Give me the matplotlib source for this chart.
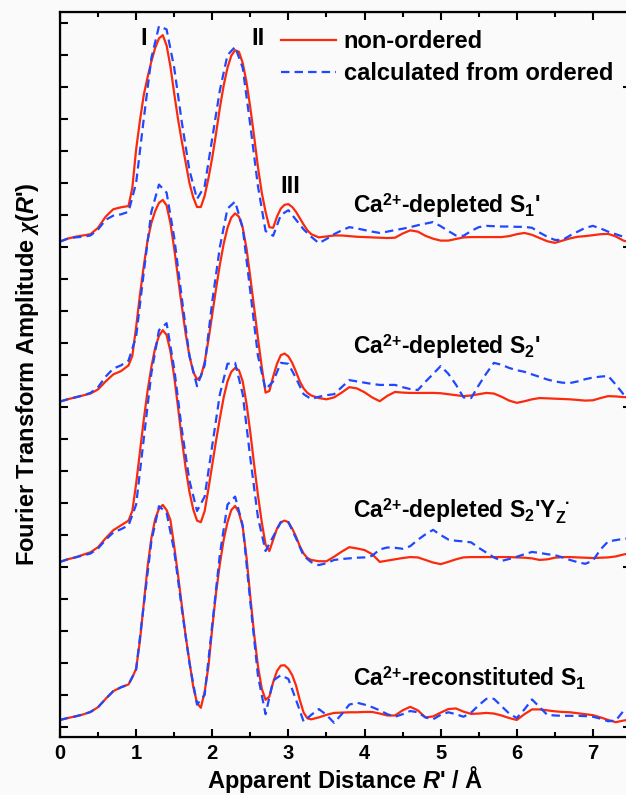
import numpy as np
import matplotlib
matplotlib.use("Agg")
import matplotlib.pyplot as plt
from matplotlib.ticker import MultipleLocator

plt.rcParams['font.family'] = ['Liberation Sans', 'DejaVu Sans']
plt.rcParams['font.weight'] = 'bold'
plt.rcParams['mathtext.fontset'] = 'custom'
plt.rcParams['mathtext.rm'] = 'Liberation Sans:bold'
plt.rcParams['mathtext.bf'] = 'Liberation Sans:bold'
plt.rcParams['mathtext.it'] = 'Liberation Serif:italic'
plt.rcParams['mathtext.sf'] = 'Liberation Sans:bold:italic'

# apparent distance (Å): fitted curves sampled finer across the first shells
r_fit = np.round(np.concatenate([np.arange(0, 0.85, 0.1),
                                 np.arange(0.9, 3.301, 0.05),
                                 np.arange(3.4, 7.501, 0.1)]), 2)
# back-calculated curves, 0.1 Å steps
r_calc = np.round(np.arange(0, 7.501, 0.1), 2)

# FT amplitudes, each spectrum on its own baseline
s1_red = [0.17, 0.26, 0.32, 0.36, 0.40, 0.60, 0.95, 1.18, 1.24,
          1.28, 1.85, 3.05, 3.95, 4.75, 5.30, 5.80, 6.22, 6.52, 6.62,
          6.30, 5.65, 4.80, 4.00, 3.30, 2.65, 2.00, 1.55, 1.25, 1.25,
          1.60, 2.15, 2.80, 3.55, 4.35, 5.05, 5.60, 5.98, 6.15, 6.10,
          5.75, 5.15, 4.35, 3.45, 2.50, 1.70, 1.10, 0.62, 0.60, 0.95,
          1.20, 1.32, 1.34, 1.25, 1.10, 0.90, 0.70, 0.52, 0.40,
          0.30, 0.33, 0.36, 0.36, 0.34, 0.32,
          0.31, 0.30, 0.29, 0.28, 0.29, 0.42, 0.52, 0.48, 0.35, 0.26,
          0.20, 0.20, 0.25, 0.30, 0.31, 0.31, 0.31, 0.31, 0.31, 0.34,
          0.40, 0.44, 0.38, 0.28, 0.18, 0.13, 0.20, 0.27, 0.32, 0.34,
          0.37, 0.40, 0.41, 0.33, 0.20, 0.14]
s1_blue = [0.17, 0.26, 0.30, 0.32, 0.36, 0.55, 0.85, 0.98, 1.02, 1.10,
           2.00, 4.00, 5.90, 6.90, 6.80, 5.60, 3.90, 2.40, 1.50, 1.90,
           3.40, 4.90, 6.00, 6.25, 5.60, 3.80, 1.90, 0.50, 0.35, 1.00,
           1.15, 0.85, 0.55, 0.32, 0.12, 0.25, 0.40, 0.52, 0.62, 0.58,
           0.53, 0.48, 0.44, 0.48, 0.53, 0.57, 0.62, 0.68, 0.73, 0.78,
           0.65, 0.50, 0.36, 0.35, 0.50, 0.62, 0.66, 0.65, 0.64, 0.64,
           0.63, 0.63, 0.60, 0.45, 0.32, 0.22, 0.22, 0.36, 0.48, 0.60,
           0.66, 0.58, 0.48, 0.40, 0.32, 0.28]

s2_red = [0.17, 0.24, 0.30, 0.36, 0.42, 0.55, 0.80, 1.02, 1.12,
          1.30, 1.60, 2.50, 3.50, 4.40, 5.20, 5.75, 6.12, 6.38, 6.47,
          6.30, 5.75, 4.95, 4.05, 3.15, 2.30, 1.60, 1.10, 0.86, 0.95,
          1.40, 2.10, 2.90, 3.70, 4.45, 5.10, 5.60, 5.92, 6.05, 5.95,
          5.60, 4.95, 4.05, 3.10, 2.15, 1.25, 0.45, 0.50, 0.95, 1.35,
          1.62, 1.67, 1.58, 1.38, 1.10, 0.80, 0.58, 0.44, 0.36,
          0.28, 0.24, 0.30, 0.45, 0.62, 0.58,
          0.46, 0.30, 0.18, 0.35, 0.47, 0.45, 0.44, 0.44, 0.44, 0.44,
          0.43, 0.40, 0.37, 0.34, 0.36, 0.40, 0.44, 0.42, 0.32, 0.20,
          0.13, 0.18, 0.24, 0.28, 0.27, 0.26, 0.25, 0.24, 0.22, 0.20,
          0.21, 0.28, 0.34, 0.33, 0.31, 0.30]
s2_blue = [0.17, 0.24, 0.30, 0.36, 0.44, 0.62, 0.95, 1.20, 1.30, 1.45,
           2.20, 4.20, 6.10, 6.95, 6.70, 5.30, 3.40, 1.60, 0.65, 1.30,
           3.30, 5.00, 6.20, 6.42, 5.60, 3.60, 1.60, 0.55, 0.80, 1.38,
           1.35, 0.90, 0.40, 0.25, 0.32, 0.37, 0.40, 0.62, 0.84, 0.80,
           0.76, 0.72, 0.69, 0.69, 0.69, 0.62, 0.56, 0.53, 0.79, 1.03,
           1.28, 1.04, 0.70, 0.30, 0.28, 0.68, 1.05, 1.38, 1.32, 1.22,
           1.15, 1.10, 1.02, 0.94, 0.86, 0.80, 0.76, 0.75, 0.80, 0.87,
           0.92, 0.95, 0.97, 0.70, 0.40, 0.25]

s2yz_red = [0.16, 0.24, 0.30, 0.38, 0.46, 0.62, 0.90, 1.15, 1.30,
            1.45, 1.75, 2.60, 3.60, 4.60, 5.50, 6.25, 6.85, 7.22, 7.40,
            7.25, 6.75, 5.95, 5.00, 4.00, 3.10, 2.35, 1.80, 1.45, 1.40,
            1.75, 2.45, 3.20, 3.95, 4.65, 5.30, 5.80, 6.10, 6.22, 6.15,
            5.80, 5.10, 4.20, 3.20, 2.25, 1.40, 0.70, 0.50, 0.85, 1.20,
            1.40, 1.45, 1.40, 1.20, 0.95, 0.65, 0.42, 0.28, 0.22,
            0.18, 0.18, 0.32, 0.48, 0.62, 0.58,
            0.53, 0.40, 0.16, 0.20, 0.24, 0.28, 0.31, 0.30, 0.22, 0.14,
            0.09, 0.16, 0.24, 0.30, 0.31, 0.31, 0.31, 0.31, 0.31, 0.31,
            0.30, 0.29, 0.27, 0.22, 0.24, 0.29, 0.31, 0.31, 0.30, 0.29,
            0.28, 0.29, 0.30, 0.33, 0.39, 0.43]
s2yz_blue = [0.16, 0.24, 0.30, 0.36, 0.42, 0.58, 0.85, 1.08, 1.18, 1.30,
             1.95, 4.00, 6.05, 7.40, 7.62, 6.20, 4.30, 2.70, 1.75, 2.20,
             3.80, 5.40, 6.35, 6.38, 5.40, 3.40, 1.55, 0.50, 0.95, 1.40,
             1.40, 0.90, 0.35, 0.15, 0.06, 0.12, 0.22, 0.25, 0.27, 0.29,
             0.30, 0.35, 0.55, 0.61, 0.60, 0.57, 0.65, 0.85, 1.02, 1.16,
             1.00, 0.86, 0.82, 0.80, 0.77, 0.60, 0.45, 0.30, 0.19, 0.25,
             0.32, 0.40, 0.47, 0.44, 0.40, 0.37, 0.30, 0.22, 0.15, 0.10,
             0.20, 0.55, 0.80, 0.84, 0.88, 0.90]

recon_red = [0.22, 0.28, 0.33, 0.39, 0.47, 0.62, 0.88, 1.12, 1.24,
             1.33, 1.55, 1.82, 2.70, 3.85, 5.00, 5.90, 6.50, 6.82, 6.94,
             6.78, 6.47, 5.65, 4.75, 3.80, 2.85, 2.05, 1.26, 0.75, 0.60,
             1.10, 1.90, 3.10, 4.20, 5.10, 5.85, 6.40, 6.78, 6.91, 6.70,
             6.25, 5.30, 4.07, 2.90, 1.90, 1.20, 0.85, 0.95, 1.40, 1.75,
             1.92, 1.93, 1.82, 1.62, 1.30, 0.84, 0.45, 0.27, 0.24,
             0.30, 0.38, 0.44, 0.45, 0.46, 0.46,
             0.47, 0.47, 0.42, 0.36, 0.36, 0.52, 0.63, 0.52, 0.30, 0.33,
             0.45, 0.56, 0.58, 0.48, 0.41, 0.42, 0.44, 0.42, 0.36, 0.28,
             0.22, 0.40, 0.55, 0.55, 0.52, 0.49, 0.47, 0.46, 0.43, 0.40,
             0.37, 0.30, 0.22, 0.15, 0.20, 0.24]
recon_blue = [0.22, 0.28, 0.33, 0.39, 0.47, 0.62, 0.88, 1.12, 1.24, 1.33,
              1.80, 3.80, 5.80, 6.90, 6.70, 5.50, 3.70, 2.00, 0.70, 1.00,
              3.20, 5.40, 6.95, 7.20, 6.30, 3.90, 1.60, 0.40, 1.45, 1.62,
              1.50, 0.85, 0.17, 0.38, 0.56, 0.38, 0.13, 0.40, 0.70, 0.76,
              0.70, 0.62, 0.52, 0.40, 0.32, 0.40, 0.50, 0.46, 0.30, 0.24,
              0.38, 0.46, 0.40, 0.32, 0.45, 0.68, 0.88, 0.88, 0.65, 0.42,
              0.28, 0.55, 0.86, 0.62, 0.38, 0.36, 0.35, 0.35, 0.35, 0.34,
              0.32, 0.26, 0.18, 0.20, 0.50, 0.65]

spectra = [
    (s1_red, s1_blue, 15, r"Ca$^{2{+}}$-depleted S$_1$'", 16.06),
    (s2_red, s2_blue, 10, r"Ca$^{2{+}}$-depleted S$_2$'", 11.66),
    (s2yz_red, s2yz_blue, 5,
     r"Ca$^{2{+}}$-depleted S$_2$'Y$_\mathrm{Z}^{\hspace{0.55}\bullet}$", 6.53),
    (recon_red, recon_blue, 0, r"Ca$^{2{+}}$-reconstituted S$_1$", 1.25),
]

red = '#fb2a0c'
blue = '#1f48ff'

fig = plt.figure(figsize=(6.26, 7.95), dpi=100, facecolor='#fafafa')
ax = fig.add_axes([60 / 626, 58 / 795, 571 / 626, 725 / 795])
ax.set_facecolor('#fafafa')

for y_red, y_blue, off, name, y_txt in spectra:
    l1, = ax.plot(r_fit, np.array(y_red) + off, color=red, lw=1.6, zorder=2)
    l2, = ax.plot(r_calc, np.array(y_blue) + off, color=blue, lw=1.6,
                  dashes=(3.8, 2.3), zorder=3)
    ax.text(3.85, y_txt, name, fontsize=16.5, fontweight='bold', va='baseline')

ax.text(1.10, 21.3, 'I', fontsize=17, ha='center', va='baseline')
ax.text(2.60, 21.3, 'II', fontsize=17, ha='center', va='baseline')
ax.text(3.03, 16.69, 'III', fontsize=17, ha='center', va='baseline')

ax.legend([l1, l2], ['non-ordered', 'calculated from ordered'],
          loc='upper left', bbox_to_anchor=(0.387, 0.975), frameon=False,
          fontsize=17, handlelength=2.35, handletextpad=0.3,
          labelspacing=0.37, borderpad=0, borderaxespad=0)

ax.set_xlim(0, 7.5)
ax.set_ylim(-10 / 32, 715 / 32)
ax.xaxis.set_major_locator(MultipleLocator(1))
ax.xaxis.set_minor_locator(MultipleLocator(0.5))
ax.yaxis.set_major_locator(MultipleLocator(1))
ax.set_yticklabels([])
ax.tick_params(which='both', direction='in', top=True, right=False, width=1.5)
ax.tick_params(which='major', length=6, labelsize=14.5, pad=5)
ax.tick_params(which='minor', length=3.5)
for lab in ax.get_xticklabels():
    lab.set_fontweight('bold')
for sp in ax.spines.values():
    sp.set_linewidth(1.6)

# baselines of the four spectra marked on the right
ax2 = ax.twinx()
ax2.set_ylim(ax.get_ylim())
ax2.set_yticks([0, 5, 10, 15, 20])
ax2.set_yticklabels([])
ax2.tick_params(direction='in', length=6, width=1.5)

ax.set_xlabel(r"Apparent Distance $\mathsf{R}$' / Å", fontsize=17,
              fontweight='bold', labelpad=1)
ax.set_ylabel(r"Fourier Transform Amplitude $\chi$($\mathsf{R}$')",
              fontsize=17, fontweight='bold', labelpad=9)

fig.savefig('out.png', dpi=100, facecolor=fig.get_facecolor())
